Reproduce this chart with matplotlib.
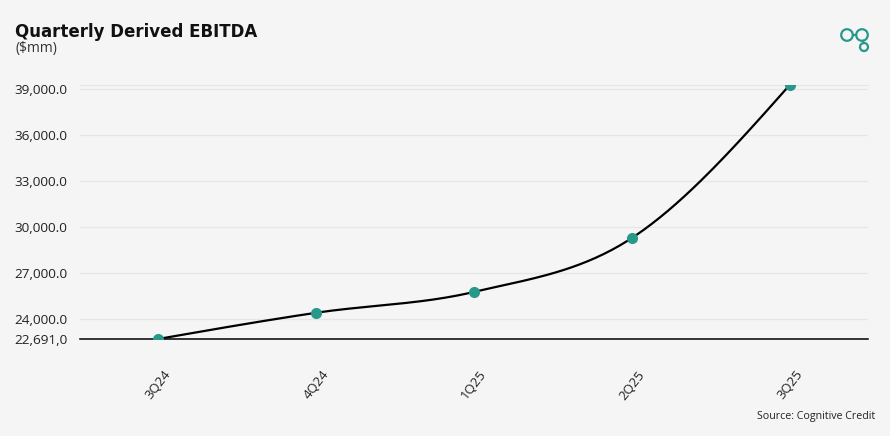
import numpy as np
import matplotlib as mpl
mpl.use('Agg')
import matplotlib.pyplot as plt
import matplotlib.patches as mpatches
import matplotlib.lines as mlines
from matplotlib.ticker import FuncFormatter

'''Data'''
quarters = ['3Q24', '4Q24', '1Q25', '2Q25', '3Q25']
ebitda = [22691.0, 24400.0, 25760.0, 29280.0, 39270.0]
y_ticks = [22691.0, 24000.0, 27000.0, 30000.0, 33000.0, 36000.0, 39000.0]

BG = '#f5f5f5'
TEAL = '#27998a'

mpl.rcParams['font.family'] = ['Open Sans', 'DejaVu Sans']


def monotone_x(xs, ys, n=40):
    # d3 curveMonotoneX style smoothing, only used to draw the line
    xs = np.asarray(xs, float)
    ys = np.asarray(ys, float)
    h = np.diff(xs)
    s = np.diff(ys) / h
    t = np.zeros(len(xs))
    for i in range(1, len(xs) - 1):
        p = (s[i - 1] * h[i] + s[i] * h[i - 1]) / (h[i - 1] + h[i])
        t[i] = (np.sign(s[i - 1]) + np.sign(s[i])) * min(abs(s[i - 1]), abs(s[i]), 0.5 * abs(p))
    t[0] = (3 * s[0] - t[1]) / 2
    t[-1] = (3 * s[-1] - t[-2]) / 2
    px, py = [], []
    u = np.linspace(0, 1, n)
    for i in range(len(xs) - 1):
        dx = h[i] / 3
        x0, x1, x2, x3 = xs[i], xs[i] + dx, xs[i + 1] - dx, xs[i + 1]
        y0, y1, y2, y3 = ys[i], ys[i] + dx * t[i], ys[i + 1] - dx * t[i + 1], ys[i + 1]
        bx = (1 - u) ** 3 * x0 + 3 * (1 - u) ** 2 * u * x1 + 3 * (1 - u) * u ** 2 * x2 + u ** 3 * x3
        by = (1 - u) ** 3 * y0 + 3 * (1 - u) ** 2 * u * y1 + 3 * (1 - u) * u ** 2 * y2 + u ** 3 * y3
        px.extend(bx)
        py.extend(by)
    return np.array(px), np.array(py)


fig = plt.figure(figsize=(8.9, 4.36), dpi=100, facecolor=BG)
ax = fig.add_axes((0.0899, 0.2225, 0.8854, 0.5832), facecolor=BG)

x = np.arange(len(quarters))
cx, cy = monotone_x(x, ebitda)
ax.plot(cx, cy, color='black', lw=1.6, zorder=3)
ax.plot(x, ebitda, 'o', color=TEAL, markersize=7, zorder=4)

ax.set_xlim(-0.494, 4.494)
ax.set_ylim(ebitda[0], max(ebitda))

ax.set_yticks(y_ticks)
ax.yaxis.set_major_formatter(FuncFormatter(
    lambda v, pos: '22,691,0' if pos == 0 else '{:,.1f}'.format(v)))
ax.set_xticks(x)
ax.set_xticklabels(quarters, rotation=52, ha='center')
ax.tick_params(axis='x', length=0, pad=21, labelsize=9.5, colors='#222222')
ax.tick_params(axis='y', length=0, pad=9, labelsize=9.7, colors='#222222')

ax.grid(axis='y', color='#e6e6e6', lw=1)
ax.set_axisbelow(True)
for side in ['left', 'right']:
    ax.spines[side].set_visible(False)
ax.spines['top'].set_color('#e6e6e6')
ax.spines['bottom'].set_color('black')
ax.spines['bottom'].set_linewidth(1.1)

fig.text(0.017, 0.915, 'Quarterly Derived EBITDA', fontsize=12, fontweight='bold',
         color='#111111', family=['DejaVu Sans'])
fig.text(0.017, 0.88, '($mm)', fontsize=10, color='#333333')
fig.text(0.983, 0.038, 'Source: Cognitive Credit', fontsize=7.7, color='#222222', ha='right')

# logo
W, H = 890, 436
for (lx, ly, r) in [(847, 35, 5.8), (862, 35, 5.8), (864, 47, 4.0)]:
    fig.patches.append(mpatches.Ellipse((lx / W, 1 - ly / H), 2 * r / W, 2 * r / H,
                                        transform=fig.transFigure, fill=False,
                                        ec=TEAL, lw=1.6))
fig.lines.append(mlines.Line2D([852.8 / W, 856.2 / W], [1 - 35 / H, 1 - 35 / H],
                               transform=fig.transFigure, color=TEAL, lw=1.6))
fig.lines.append(mlines.Line2D([863 / W, 863.5 / W], [1 - 40.8 / H, 1 - 43 / H],
                               transform=fig.transFigure, color=TEAL, lw=1.6))

fig.savefig('out.png', dpi=100, facecolor=BG)
